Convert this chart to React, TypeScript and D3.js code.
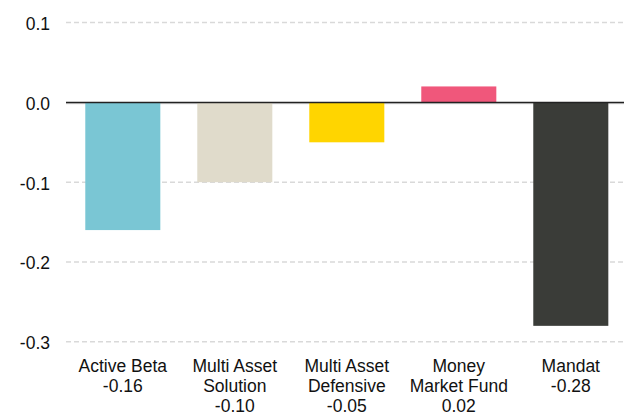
import React from "react";
import * as d3 from "d3";

const categories = ["Active Beta", "Multi Asset Solution", "Multi Asset Defensive", "Money Market Fund", "Mandat"];
const labelLines = [["Active Beta"], ["Multi Asset", "Solution"], ["Multi Asset", "Defensive"], ["Money", "Market Fund"], ["Mandat"]];
const values = [-0.16, -0.10, -0.05, 0.02, -0.28];
const colors = ["#7AC6D4", "#E0DBCB", "#FFD500", "#F0577B", "#3A3C38"];
const yTicks = [0.1, 0.0, -0.1, -0.2, -0.3];
const yTickLabels = ["0.1", "0.0", "-0.1", "-0.2", "-0.3"];

const W = 624;
const H = 412;

export default function App() {
  const y = d3.scaleLinear().domain([-0.3, 0.1]).range([341.8, 22.6]);
  const x = d3.scaleBand<string>().domain(categories).range([66.8, 626.8]).paddingInner(0.33).paddingOuter(0.165);
  const font = "'Liberation Sans', Arial, Helvetica, sans-serif";
  const fmt = (v: number) => v.toFixed(2);
  return (
    <svg width={W} height={H} style={{ position: "absolute", left: 0, top: 0, background: "#fff" }} fontFamily={font}>
      {yTicks.map((t, i) => (
        <g key={i}>
          <line x1={66} x2={W} y1={y(t) + (t === 0 ? 1 : 0)} y2={y(t) + (t === 0 ? 1 : 0)} stroke="#D9D9D9" strokeWidth={1.5} strokeDasharray={t === 0 ? undefined : "5,3"} />
          <text x={50} y={y(t)} dy="0.42em" textAnchor="end" fontSize={17.5} fill="#111">{yTickLabels[i]}</text>
        </g>
      ))}
      {categories.map((c, i) => {
        const v = values[i];
        const y0 = y(0);
        const yv = y(v);
        return (
          <rect key={c} x={x(c)} width={x.bandwidth()} y={Math.min(y0, yv)} height={Math.abs(yv - y0)} fill={colors[i]} />
        );
      })}
      <line x1={66} x2={W} y1={y(0)} y2={y(0)} stroke="#222" strokeWidth={1.5} />
      {categories.map((c, i) => {
        const cx = (x(c) as number) + x.bandwidth() / 2;
        const lines = [...labelLines[i], fmt(values[i])];
        return (
          <text key={c} x={cx} textAnchor="middle" fontSize={17.5} fill="#111">
            {lines.map((l, j) => (
              <tspan key={j} x={cx} y={371.5 + j * 20}>{l}</tspan>
            ))}
          </text>
        );
      })}
    </svg>
  );
}
